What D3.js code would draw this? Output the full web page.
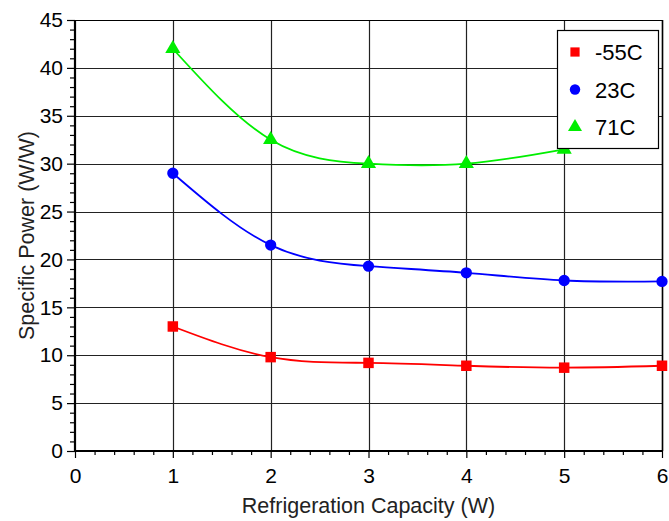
<!DOCTYPE html>
<html>
<head>
<meta charset="utf-8">
<script src="https://cdn.jsdelivr.net/npm/d3@7"></script>
<style>
  html, body { margin: 0; padding: 0; background: #fff; }
  svg { display: block; font-family: "Liberation Sans", Arial, sans-serif; }
</style>
</head>
<body>
<svg id="chart" width="669" height="521"></svg>
<script>
// Specific power vs refrigeration capacity at three ambient temperatures
const capacity = [1, 2, 3, 4, 5, 6];
const powerMinus55 = [13.0, 9.8, 9.2, 8.9, 8.7, 8.9];
const power23 = [29.0, 21.5, 19.3, 18.6, 17.8, 17.7];
const power71 = [42.0, 32.5, 30.0, 30.0, 31.5];
const xTicks = [0, 1, 2, 3, 4, 5, 6];
const yTicks = [0, 5, 10, 15, 20, 25, 30, 35, 40, 45];
const seriesNames = ["-55C", "23C", "71C"];

const series = [
  { name: seriesNames[0], values: powerMinus55, color: "#ff0000", symbol: d3.symbolSquare },
  { name: seriesNames[1], values: power23, color: "#0000ff", symbol: d3.symbolCircle },
  { name: seriesNames[2], values: power71, color: "#00ee00", symbol: d3.symbolTriangle }
];

const svg = d3.select("#chart");
const m = { left: 75, right: 662, top: 20, bottom: 451 };

const x = d3.scaleLinear().domain([0, 6]).range([m.left, m.right]);
const y = d3.scaleLinear().domain([0, 45]).range([m.bottom, m.top]);

// grid
const grid = svg.append("g");
grid.selectAll("line.h").data(yTicks.filter(v => v > 0)).join("line")
  .attr("x1", m.left).attr("x2", m.right)
  .attr("y1", d => Math.round(y(d)) + 0.5).attr("y2", d => Math.round(y(d)) + 0.5)
  .attr("stroke", "#222").attr("stroke-width", 1.2);
grid.selectAll("line.v").data(xTicks.filter(v => v > 0)).join("line")
  .attr("y1", m.top).attr("y2", m.bottom)
  .attr("x1", d => Math.round(x(d)) + 0.5).attr("x2", d => Math.round(x(d)) + 0.5)
  .attr("stroke", "#222").attr("stroke-width", 1.2);

// axes
const yAxis = svg.append("g").attr("transform", `translate(${m.left},0)`)
  .call(d3.axisLeft(y).tickValues(yTicks).tickSize(8).tickPadding(4).tickFormat(d3.format("d")));
const yMinor = svg.append("g").attr("transform", `translate(${m.left},0)`)
  .call(d3.axisLeft(y).tickValues(d3.range(0, 46, 1).filter(v => v % 5 !== 0)).tickSize(5).tickFormat(""));
const xAxis = svg.append("g").attr("transform", `translate(0,${m.bottom})`)
  .call(d3.axisBottom(x).tickValues(xTicks).tickSize(7).tickPadding(10).tickFormat(d3.format("d")));
const xMinor = svg.append("g").attr("transform", `translate(0,${m.bottom})`)
  .call(d3.axisBottom(x).tickValues(d3.range(0, 6.001, 0.2).filter(v => Math.abs(v - Math.round(v)) > 1e-6)).tickSize(4).tickFormat(""));

[yAxis, yMinor, xAxis, xMinor].forEach(g => {
  g.select(".domain").remove();
  g.selectAll("line").attr("stroke", "#000").attr("stroke-width", 1.2);
  g.selectAll("text").attr("font-size", 21).attr("fill", "#000")
    .attr("font-family", "'Liberation Sans', Arial, sans-serif");
});

// frame
svg.append("line").attr("x1", m.left).attr("x2", m.left).attr("y1", m.top).attr("y2", m.bottom + 1)
  .attr("stroke", "#000").attr("stroke-width", 2.2);
svg.append("line").attr("x1", m.left).attr("x2", m.right + 1).attr("y1", m.bottom).attr("y2", m.bottom)
  .attr("stroke", "#000").attr("stroke-width", 2.2);
svg.append("line").attr("x1", m.left).attr("x2", m.right).attr("y1", m.top + 0.5).attr("y2", m.top + 0.5)
  .attr("stroke", "#000").attr("stroke-width", 1.2);
svg.append("line").attr("x1", m.right + 0.5).attr("x2", m.right + 0.5).attr("y1", m.top).attr("y2", m.bottom)
  .attr("stroke", "#000").attr("stroke-width", 1.5);

// curves and markers
const line = d3.line().curve(d3.curveNatural)
  .x((d, i) => x(capacity[i])).y(d => y(d));

series.forEach(s => {
  svg.append("path").datum(s.values)
    .attr("fill", "none").attr("stroke", s.color).attr("stroke-width", 1.8)
    .attr("d", line);
  const size = s.symbol === d3.symbolTriangle ? 100 : (s.symbol === d3.symbolCircle ? 100 : 110);
  svg.append("g").selectAll("path").data(s.values).join("path")
    .attr("transform", (d, i) => `translate(${x(capacity[i])},${y(d)})`)
    .attr("d", d3.symbol().type(s.symbol).size(size))
    .attr("fill", s.color);
});

// axis titles
svg.append("text").attr("x", (m.left + m.right) / 2).attr("y", 513)
  .attr("text-anchor", "middle").attr("font-size", 21.5).attr("fill", "#222")
  .text("Refrigeration Capacity (W)");
svg.append("text").attr("transform", `translate(34,${(m.top + m.bottom) / 2}) rotate(-90)`)
  .attr("text-anchor", "middle").attr("font-size", 21.5).attr("fill", "#222")
  .text("Specific Power (W/W)");

// legend
const lg = svg.append("g").attr("transform", "translate(557,30)");
lg.append("rect").attr("x", 0.5).attr("y", 0.5).attr("width", 101).attr("height", 118)
  .attr("fill", "#fff").attr("stroke", "#000").attr("stroke-width", 1.2);
series.forEach((s, i) => {
  const cy = 22 + i * 37.5;
  lg.append("path").attr("transform", `translate(18,${cy})`)
    .attr("d", d3.symbol().type(s.symbol).size(85)).attr("fill", s.color);
  lg.append("text").attr("x", 38).attr("y", cy + 8).attr("font-size", 22).attr("fill", "#000")
    .text(s.name);
});
</script>
</body>
</html>
